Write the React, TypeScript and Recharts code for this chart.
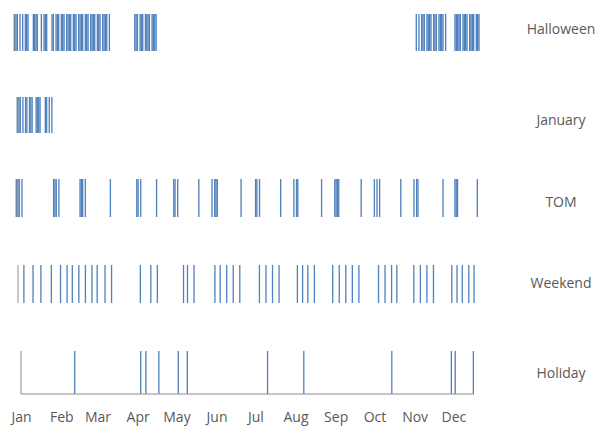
import React from 'react';
import { BarChart, Bar, XAxis, YAxis } from 'recharts';

// calendar axis: day 0 = Jan 1
const dayCount = 350;
const monthNames = ['Jan', 'Feb', 'Mar', 'Apr', 'May', 'Jun', 'Jul', 'Aug', 'Sep', 'Oct', 'Nov', 'Dec'];
const monthStartDays = [0, 31, 59, 90, 120, 151, 181, 212, 243, 273, 304, 334];

// dummy = 1 on these days (inclusive runs of days)
const halloweenRuns: [number, number][] = [
  [0, 2], [4, 4], [6, 6], [8, 10], [14, 17], [20, 20], [22, 24], [28, 29], [31, 33],
  [35, 37], [39, 42], [44, 46], [48, 51], [53, 55], [57, 60], [62, 64], [66, 69], [71, 71],
  [90, 92], [94, 96], [98, 101], [103, 106],
  [301, 301], [303, 303], [305, 307], [309, 312], [314, 316], [318, 321], [323, 323],
  [330, 334], [336, 339], [341, 344], [346, 348],
];
const januaryRuns: [number, number][] = [
  [0, 2], [4, 4], [6, 7], [9, 11], [14, 17], [21, 22], [24, 24], [26, 26],
];
const tomRuns: [number, number][] = [
  [0, 2], [4, 4], [28, 30], [32, 32], [48, 50], [52, 52], [71, 71], [91, 92], [94, 94],
  [106, 106], [119, 120], [122, 122], [138, 138], [148, 148], [150, 152], [170, 170],
  [181, 182], [184, 184], [200, 200], [210, 210], [212, 213], [231, 231], [241, 244],
  [261, 261], [271, 271], [273, 273], [275, 275], [291, 291], [301, 301], [303, 304],
  [323, 323], [332, 334], [349, 349],
];
const weekendDays = [
  4, 11, 17, 25, 32, 37, 41, 46, 51, 56, 60, 66, 71, 93, 101, 106, 126, 129, 134,
  150, 154, 159, 164, 169, 184, 189, 194, 199, 213, 217, 221, 226, 240, 245, 250, 255, 260,
  275, 280, 285, 289, 302, 307, 312, 317, 331, 335, 339, 344, 348,
];
const holidayDays = [41, 92, 96, 106, 121, 128, 190, 218, 286, 332, 335, 349];

const BLUE = '#4F81BD';
const AXIS = '#8C8C8C';
const TEXT = '#595959';
const FONT = '"Open Sans", sans-serif';

const fromRuns = (runs: [number, number][]) => {
  const days: number[] = [];
  runs.forEach(([a, b]) => {
    for (let d = a; d <= b; d++) days.push(d);
  });
  return days;
};

const toRows = (days: number[]) => {
  const on = new Set(days);
  return Array.from({ length: dayCount }, (_, day) => ({ day, v: on.has(day) ? 1 : 0 }));
};

const rows = [
  { name: 'Halloween', data: toRows(fromRuns(halloweenRuns)), left: 14, right: 481, top: 14, bottom: 51, labelY: 34 },
  { name: 'January', data: toRows(fromRuns(januaryRuns)), left: 17, right: 478, top: 97, bottom: 133, labelY: 125 },
  { name: 'TOM', data: toRows(fromRuns(tomRuns)), left: 16, right: 478, top: 179, bottom: 217, labelY: 207 },
  { name: 'Weekend', data: toRows(weekendDays), left: 18, right: 476, top: 265, bottom: 303, labelY: 288 },
  { name: 'Holiday', data: toRows(holidayDays), left: 21, right: 474, top: 351, bottom: 394, labelY: 378, showAxis: true },
];

const DummyRow = ({ row }: { row: any }) => {
  // y-axis area reaches the left page edge so month labels are not clipped
  const yw = row.left;
  const padRight = 12;
  const plotW = row.right - row.left;
  const band = plotW / dayCount;
  const axisH = row.showAxis ? 33 : 0;
  return (
    <div style={{ position: 'absolute', left: 0, top: row.top }}>
      <BarChart
        width={plotW + yw + padRight}
        height={row.bottom - row.top + axisH}
        data={row.data}
        margin={{ top: 0, right: padRight, bottom: 0, left: 0 }}
        barCategoryGap={0}
        barGap={0}
      >
        <XAxis
          dataKey="day"
          hide={!row.showAxis}
          ticks={monthStartDays}
          interval={0}
          tickFormatter={(d) => monthNames[monthStartDays.indexOf(d)]}
          axisLine={{ stroke: AXIS }}
          tickLine={false}
          tickSize={0}
          tickMargin={18}
          height={axisH}
          tick={{ fill: TEXT, fontSize: 14, fontFamily: FONT }}
        />
        <YAxis
          domain={[0, 1]}
          ticks={[0]}
          tick={false}
          width={yw}
          tickSize={5}
          axisLine={{ stroke: AXIS }}
          tickLine={{ stroke: AXIS }}
        />
        <Bar
          dataKey="v"
          isAnimationActive={false}
          shape={(p: any) =>
            p.height > 0 ? <rect x={p.x} y={p.y} width={band} height={p.height} fill={BLUE} /> : <g />
          }
        />
      </BarChart>
    </div>
  );
};

export default function App() {
  return (
    <div style={{ position: 'absolute', left: 0, top: 0, width: 600, height: 427, background: '#fff' }}>
      {rows.map((r) => (
        <DummyRow key={r.name} row={r} />
      ))}
      <svg width={600} height={427} style={{ position: 'absolute', left: 0, top: 0, pointerEvents: 'none' }}>
        {rows.map((r) => (
          <text key={r.name} x={561} y={r.labelY} textAnchor="middle" fontSize={14} fontFamily={FONT} fill={TEXT}>
            {r.name}
          </text>
        ))}
      </svg>
    </div>
  );
}
